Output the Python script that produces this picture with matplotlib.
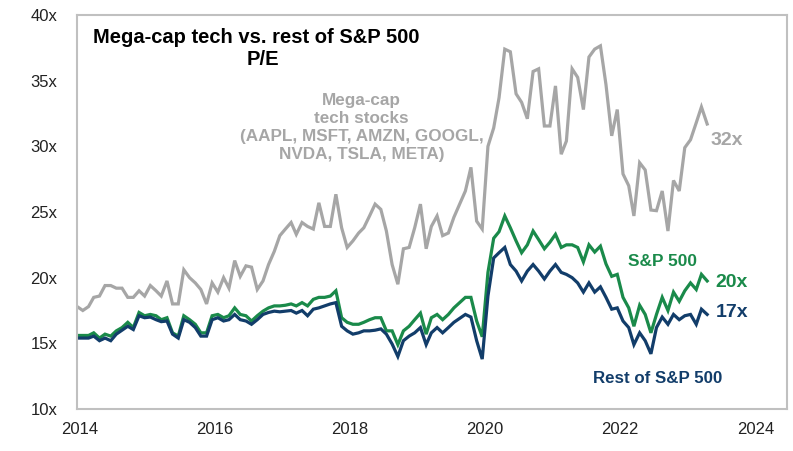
import numpy as np
import pandas as pd
import matplotlib
matplotlib.use("Agg")
import matplotlib.pyplot as plt

plt.rcParams['font.family'] = ['Liberation Sans', 'DejaVu Sans']

# Monthly observations (Dec 2013 .. Apr 2023)
dates = pd.date_range("2013-12-01", periods=113, freq="MS") + pd.Timedelta(days=15)

megacap_pe = [17.8, 17.5, 17.8, 18.5, 18.6, 19.4, 19.4, 19.2, 19.2, 18.5,
              18.5, 19.0, 18.6, 19.4, 19.0, 18.6, 19.75, 18.0, 18.0, 20.6,
              20.0, 19.6, 19.1, 18.0, 19.6, 18.9, 20.0, 19.2, 21.3, 20.1,
              20.9, 20.8, 19.1, 19.75, 21.0, 22.0, 23.2, 23.7, 24.2, 23.3,
              24.2, 23.9, 23.7, 25.7, 23.9, 23.9, 26.35, 23.8, 22.3, 22.8,
              23.4, 23.8, 24.7, 25.6, 25.2, 23.55, 21.0, 19.5, 22.2, 22.3,
              23.8, 25.6, 22.2, 23.9, 24.7, 23.2, 23.4, 24.6, 25.6, 26.6,
              28.4, 24.3, 23.7, 30.0, 31.4, 33.7, 37.4, 37.2, 34.0, 33.35,
              32.1, 35.7, 35.9, 31.55, 31.55, 34.6, 29.4, 30.4, 35.9, 35.25,
              32.8, 36.8, 37.4, 37.65, 34.7, 30.8, 32.8, 27.9, 27.0, 24.7,
              28.75, 28.2, 25.15, 25.1, 26.6, 23.55, 27.4, 26.6, 29.9, 30.5,
              31.8, 33.0, 31.7]

sp500_pe = [15.6, 15.6, 15.6, 15.8, 15.4, 15.7, 15.55, 15.95, 16.2, 16.6,
            16.2, 17.35, 17.1, 17.2, 17.1, 16.8, 16.95, 15.8, 15.55, 17.1,
            16.8, 16.45, 15.8, 15.8, 17.1, 17.2, 16.95, 17.1, 17.7, 17.2,
            17.1, 16.7, 17.1, 17.45, 17.7, 17.85, 17.85, 17.9, 18.0, 17.85,
            18.1, 17.85, 18.35, 18.5, 18.5, 18.6, 19.0, 16.95, 16.6, 16.45,
            16.45, 16.6, 16.8, 16.95, 16.95, 15.95, 15.95, 14.9, 15.95, 16.3,
            16.8, 17.3, 15.7, 16.95, 17.2, 16.8, 17.2, 17.7, 18.1, 18.5,
            18.5, 16.7, 15.5, 20.4, 23.0, 23.5, 24.7, 23.8, 22.8, 21.9,
            22.5, 23.55, 22.9, 22.2, 22.7, 23.3, 22.3, 22.5, 22.5, 22.3,
            21.2, 22.5, 21.95, 22.4, 21.05, 20.1, 20.25, 18.5, 17.7, 16.3,
            17.9, 17.2, 15.8, 17.2, 18.5, 17.5, 18.9, 18.2, 19.0, 19.6,
            19.1, 20.25, 19.75]

rest_pe = [15.4, 15.4, 15.4, 15.55, 15.2, 15.4, 15.2, 15.7, 16.0, 16.3,
           16.05, 17.1, 16.95, 17.0, 16.8, 16.65, 16.7, 15.7, 15.4, 16.8,
           16.6, 16.2, 15.55, 15.55, 16.8, 16.95, 16.7, 16.8, 17.2, 16.8,
           16.7, 16.45, 16.8, 17.2, 17.35, 17.45, 17.4, 17.45, 17.5, 17.3,
           17.5, 17.1, 17.6, 17.7, 17.85, 18.0, 18.1, 16.3, 15.95, 15.7,
           15.8, 15.95, 15.95, 16.0, 16.1, 15.7, 14.95, 14.0, 15.2, 15.55,
           15.8, 16.2, 14.9, 15.8, 16.2, 15.8, 16.2, 16.6, 16.9, 17.2,
           17.0, 15.2, 13.8, 18.6, 21.5, 21.9, 22.3, 21.0, 20.5, 19.75,
           20.5, 21.0, 20.5, 19.9, 20.5, 21.0, 20.4, 20.25, 20.0, 19.6,
           18.9, 19.6, 18.9, 19.3, 18.5, 17.6, 17.7, 16.7, 16.2, 14.9,
           15.8, 15.2, 14.2, 16.2, 17.0, 16.45, 17.2, 16.8, 17.1, 17.2,
           16.45, 17.6, 17.2]

year_ticks = [2014, 2016, 2018, 2020, 2022, 2024]
pe_ticks = [10, 15, 20, 25, 30, 35, 40]
pe_tick_labels = [f"{v}x" for v in pe_ticks]

GRAY = "#a6a6a6"
GREEN = "#1a8a4a"
NAVY = "#123d6a"

x = dates.year + (dates.dayofyear - 1) / 365.0

fig = plt.figure(figsize=(7.93, 4.51), dpi=100)
ax = fig.add_axes([77 / 793, 1 - 409 / 451, 710 / 793, 394 / 451])

ax.plot(x, megacap_pe, color=GRAY, lw=2.3, solid_joinstyle="miter")
ax.plot(x, sp500_pe, color=GREEN, lw=2.3, solid_joinstyle="miter")
ax.plot(x, rest_pe, color=NAVY, lw=2.3, solid_joinstyle="miter")

ax.set_xlim(2013.955, 2024.47)
ax.set_ylim(10, 40)
ax.set_xticks(year_ticks)
ax.set_xticklabels([str(t) for t in year_ticks], fontsize=12, color="#222222")
ax.set_yticks(pe_ticks)
ax.set_yticklabels(pe_tick_labels, fontsize=12, color="#222222")
ax.tick_params(axis="both", length=0)
ax.tick_params(axis="y", pad=14)
ax.tick_params(axis="x", pad=9)
for s in ax.spines.values():
    s.set_color("#c0c0c0")
    s.set_linewidth(1.5)

ax.text(0.253, 0.944, "Mega-cap tech vs. rest of S&P 500", transform=ax.transAxes,
        ha="center", va="center", fontsize=14.5, fontweight="bold", color="black")
ax.text(0.262, 0.886, "P/E", transform=ax.transAxes,
        ha="center", va="center", fontsize=14.5, fontweight="bold", color="black")
ax.text(0.401, 0.7145, "Mega-cap\ntech stocks\n(AAPL, MSFT, AMZN, GOOGL,\nNVDA, TSLA, META)",
        transform=ax.transAxes, ha="center", va="center", multialignment="center",
        fontsize=12.3, fontweight="bold", color=GRAY, linespacing=1.23)

ax.text(2023.33, 30.41, "32x", ha="left", va="center", fontsize=14, fontweight="bold", color=GRAY)
ax.text(2023.41, 19.6, "20x", ha="left", va="center", fontsize=14, fontweight="bold", color=GREEN)
ax.text(2023.41, 17.31, "17x", ha="left", va="center", fontsize=14, fontweight="bold", color=NAVY)
ax.text(2022.62, 21.2, "S&P 500", ha="center", va="center", fontsize=12.4, fontweight="bold", color=GREEN)
ax.text(2022.56, 12.36, "Rest of S&P 500", ha="center", va="center", fontsize=12.2, fontweight="bold", color=NAVY)

fig.savefig("out.png", dpi=100, facecolor="white")
